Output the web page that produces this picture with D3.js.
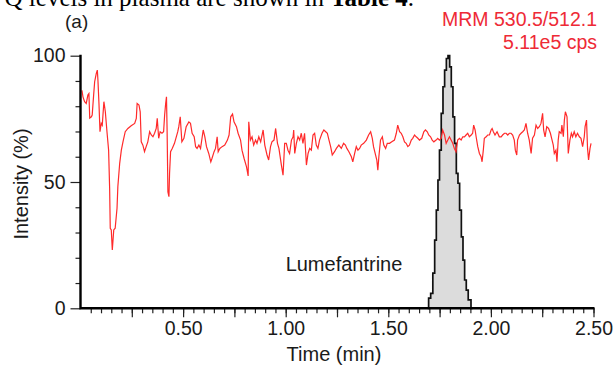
<!DOCTYPE html>
<html>
<head>
<meta charset="utf-8">
<script src="https://cdn.jsdelivr.net/npm/d3@7"></script>
<style>
    body { margin: 0; background: #fff; }
    svg { display: block; }
</style>
</head>
<body>
<script>
const WIDTH_SVG = 613;
const HEIGHT_SVG = 366;

// Data (time in min, intensity in %)
const traceTime = [0.007, 0.012, 0.020, 0.028, 0.036, 0.041, 0.045, 0.053, 0.057, 0.064, 0.069, 0.077, 0.082, 0.085, 0.090, 0.095, 0.101, 0.106, 0.114, 0.121, 0.129, 0.137, 0.142, 0.145, 0.150, 0.155, 0.162, 0.169, 0.178, 0.182, 0.191, 0.199, 0.207, 0.218, 0.231, 0.247, 0.264, 0.272, 0.276, 0.285, 0.291, 0.296, 0.304, 0.312, 0.320, 0.328, 0.337, 0.345, 0.353, 0.361, 0.369, 0.374, 0.381, 0.388, 0.397, 0.405, 0.410, 0.415, 0.419, 0.422, 0.426, 0.431, 0.434, 0.439, 0.447, 0.458, 0.474, 0.479, 0.486, 0.494, 0.504, 0.515, 0.528, 0.536, 0.544, 0.554, 0.561, 0.568, 0.577, 0.585, 0.598, 0.606, 0.614, 0.625, 0.635, 0.641, 0.651, 0.658, 0.666, 0.671, 0.679, 0.690, 0.703, 0.716, 0.724, 0.732, 0.741, 0.748, 0.760, 0.768, 0.780, 0.787, 0.797, 0.809, 0.817, 0.820, 0.828, 0.836, 0.844, 0.853, 0.860, 0.869, 0.878, 0.890, 0.898, 0.909, 0.917, 0.926, 0.933, 0.943, 0.951, 0.960, 0.967, 0.979, 0.987, 0.995, 1.003, 1.011, 1.019, 1.028, 1.036, 1.039, 1.044, 1.052, 1.060, 1.068, 1.076, 1.084, 1.092, 1.101, 1.109, 1.117, 1.125, 1.133, 1.141, 1.149, 1.157, 1.165, 1.177, 1.186, 1.195, 1.203, 1.211, 1.219, 1.227, 1.238, 1.247, 1.259, 1.271, 1.282, 1.291, 1.298, 1.308, 1.320, 1.327, 1.336, 1.344, 1.352, 1.360, 1.368, 1.380, 1.393, 1.404, 1.414, 1.422, 1.428, 1.436, 1.444, 1.449, 1.454, 1.462, 1.471, 1.478, 1.487, 1.495, 1.506, 1.517, 1.530, 1.539, 1.546, 1.555, 1.563, 1.571, 1.579, 1.587, 1.595, 1.603, 1.612, 1.619, 1.628, 1.636, 1.644, 1.652, 1.663, 1.673, 1.681, 1.690, 1.697, 1.706, 1.714, 1.722, 1.733, 1.741, 1.749, 1.758, 1.765, 1.774, 1.782, 1.790, 1.798, 1.806, 1.814, 1.822, 1.830, 1.838, 1.847, 1.855, 1.863, 1.871, 1.879, 1.887, 1.895, 1.904, 1.911, 1.916, 1.923, 1.928, 1.936, 1.944, 1.952, 1.957, 1.963, 1.968, 1.977, 1.984, 1.993, 2.001, 2.006, 2.012, 2.020, 2.030, 2.041, 2.050, 2.057, 2.066, 2.074, 2.082, 2.090, 2.098, 2.106, 2.114, 2.119, 2.126, 2.130, 2.139, 2.147, 2.155, 2.163, 2.171, 2.179, 2.187, 2.196, 2.203, 2.212, 2.220, 2.228, 2.236, 2.244, 2.252, 2.257, 2.264, 2.272, 2.281, 2.290, 2.296, 2.304, 2.309, 2.317, 2.322, 2.328, 2.333, 2.342, 2.346, 2.353, 2.358, 2.363, 2.371, 2.377, 2.385, 2.392, 2.398, 2.406, 2.414, 2.422, 2.431, 2.439, 2.447, 2.455, 2.459, 2.466, 2.471, 2.476, 2.483, 2.488];
const traceIntensity = [86.3, 83.7, 81.8, 81.1, 84.4, 85.0, 75.3, 75.8, 76.5, 84.4, 89.7, 93.0, 94.3, 90.3, 81.1, 69.9, 73.2, 72.5, 81.8, 77.8, 69.9, 62.6, 47.5, 31.7, 31.0, 23.1, 31.0, 31.7, 39.6, 48.1, 57.4, 62.6, 65.9, 69.9, 71.2, 72.3, 73.2, 75.2, 81.1, 80.5, 77.8, 65.9, 64.6, 62.0, 64.0, 65.9, 69.9, 68.6, 67.9, 69.3, 71.2, 75.2, 67.3, 69.9, 69.3, 69.9, 76.5, 81.1, 83.7, 70.6, 46.1, 44.2, 53.4, 62.0, 63.3, 65.3, 69.9, 71.9, 75.8, 65.9, 67.3, 71.9, 73.8, 73.2, 69.3, 67.9, 64.0, 63.3, 64.6, 63.3, 70.6, 67.9, 64.0, 61.3, 58.0, 59.4, 62.0, 63.3, 67.9, 62.0, 63.3, 64.0, 64.6, 66.6, 68.6, 75.8, 76.9, 73.8, 71.9, 69.3, 66.6, 62.6, 59.4, 56.0, 52.4, 73.8, 66.6, 67.9, 64.6, 66.6, 65.3, 67.9, 65.9, 70.6, 64.6, 60.7, 58.7, 64.0, 65.9, 66.6, 71.2, 65.3, 63.3, 56.7, 52.7, 65.3, 65.3, 62.6, 61.3, 66.6, 67.9, 70.6, 61.3, 65.3, 67.9, 66.6, 69.3, 65.3, 69.3, 56.7, 61.3, 63.3, 62.6, 68.6, 69.3, 64.6, 63.3, 66.6, 69.3, 70.6, 69.9, 69.3, 66.6, 64.0, 60.7, 62.0, 63.3, 64.6, 63.3, 65.3, 64.6, 63.3, 62.0, 60.0, 58.0, 61.3, 64.0, 62.6, 63.3, 64.6, 65.3, 66.6, 68.6, 69.9, 67.3, 64.0, 61.3, 58.7, 54.7, 60.0, 66.6, 67.9, 64.6, 63.3, 65.3, 65.3, 65.9, 66.6, 69.3, 72.5, 69.9, 69.3, 67.9, 65.9, 65.3, 64.0, 64.6, 66.6, 67.3, 68.6, 67.9, 67.3, 66.6, 67.3, 69.9, 70.6, 69.9, 68.6, 67.9, 66.6, 65.9, 66.6, 67.3, 66.6, 67.3, 70.6, 68.6, 65.3, 66.6, 67.9, 66.6, 65.3, 63.3, 62.0, 66.6, 67.3, 66.6, 67.9, 67.9, 68.6, 69.3, 67.9, 68.6, 69.3, 72.5, 70.6, 67.9, 64.0, 61.3, 60.0, 58.0, 62.6, 67.3, 67.9, 68.6, 68.6, 70.6, 71.2, 69.9, 68.6, 69.9, 67.9, 67.9, 68.6, 69.3, 69.3, 68.6, 69.3, 69.3, 68.6, 66.6, 62.6, 60.7, 66.6, 68.6, 69.3, 69.9, 70.6, 73.2, 69.3, 66.6, 61.3, 67.3, 68.6, 72.5, 71.2, 71.9, 73.2, 77.2, 70.6, 67.9, 71.9, 71.2, 69.3, 67.3, 64.6, 61.3, 62.6, 58.0, 66.6, 69.9, 69.3, 72.5, 67.9, 74.5, 77.8, 75.8, 61.3, 66.6, 69.3, 67.9, 69.9, 67.9, 69.3, 67.9, 67.3, 64.0, 67.9, 71.9, 74.5, 63.3, 58.7, 63.3, 65.3];

const peakTime = [1.692, 1.701, 1.712, 1.722, 1.730, 1.738, 1.746, 1.753, 1.763, 1.770, 1.779, 1.787, 1.795, 1.803, 1.811, 1.819, 1.827, 1.836, 1.843, 1.852, 1.860, 1.868, 1.876, 1.884, 1.895, 1.911];
const peakIntensity = [0, 4.0, 5.9, 13.9, 27.0, 38.9, 50.8, 62.6, 77.2, 87.7, 94.3, 98.9, 100, 95.6, 87.7, 75.8, 65.3, 53.4, 49.5, 38.9, 28.3, 19.1, 11.2, 7.2, 3.3, 0];

const yMajorTicks = [0, 50, 100];
const xLabelTicks = [0.5, 1.0, 1.5, 2.0, 2.5];

const X_LEFT = 80.5;
const X_RIGHT = 593.5;
const Y_TOP = 55.7;
const Y_BOTTOM = 308.3;
const FONT = "Arial, 'Liberation Sans', sans-serif";
const TEXT_COLOR = "#1a1a1a";
const RED = "#ff2a2a";

const svg = d3.select("body")
    .append("svg")
        .attr("width", WIDTH_SVG)
        .attr("height", HEIGHT_SVG)
        .attr("viewBox", `0 0 ${WIDTH_SVG} ${HEIGHT_SVG}`);

const x = d3.scaleLinear().domain([0, 2.5]).range([X_LEFT, X_RIGHT]);
const y = d3.scaleLinear().domain([0, 100]).range([Y_BOTTOM, Y_TOP]);

// cropped line of the surrounding article text
const topLine = svg.append("text")
    .attr("x", 414)
    .attr("y", 6)
    .attr("text-anchor", "end")
    .style("font-family", "'Liberation Serif', 'Times New Roman', serif")
    .style("font-size", "25px")
    .style("fill", "#000");
topLine.append("tspan").text("Q levels in plasma are shown in ");
topLine.append("tspan").style("font-weight", "bold").text("Table 4");
topLine.append("tspan").text(".");

// peak (filled)
const peak = peakTime.map((t, i) => ({ t: t, v: peakIntensity[i] }));
svg.append("path")
    .datum(peak)
    .attr("d", d3.area().x(d => x(d.t)).y0(y(0)).y1(d => y(d.v)).curve(d3.curveStep))
    .attr("fill", "#dcdcdc");
svg.append("path")
    .datum(peak)
    .attr("d", d3.line().x(d => x(d.t)).y(d => y(d.v)).curve(d3.curveStep))
    .attr("fill", "none")
    .attr("stroke", "#111")
    .attr("stroke-width", 1.7);

// red trace
const trace = traceTime.map((t, i) => ({ t: t, v: traceIntensity[i] }));
svg.append("path")
    .datum(trace)
    .attr("d", d3.line().x(d => x(d.t)).y(d => y(d.v)))
    .attr("fill", "none")
    .attr("stroke", RED)
    .attr("stroke-width", 1.2);

// y axis: minor ticks every 10, labelled ticks at 0/50/100
svg.append("g")
    .attr("transform", `translate(${X_LEFT},0)`)
    .call(d3.axisLeft(y).tickValues(d3.range(0, 101, 10).filter(v => !yMajorTicks.includes(v))).tickSize(5).tickFormat(""))
    .call(g => g.select(".domain").remove());
svg.append("g")
    .attr("transform", `translate(${X_LEFT},0)`)
    .call(d3.axisLeft(y).tickValues(yMajorTicks).tickSize(10).tickPadding(5).tickFormat(d3.format("d")))
    .call(g => g.select(".domain").remove());

// x axis: ticks every 0.05, longer every 0.25, labels every 0.5
svg.append("g")
    .attr("transform", `translate(0,${Y_BOTTOM})`)
    .call(d3.axisBottom(x).tickValues(d3.range(1, 51).map(i => i * 0.05)).tickSize(5).tickFormat(""))
    .call(g => g.select(".domain").remove());
svg.append("g")
    .attr("transform", `translate(0,${Y_BOTTOM})`)
    .call(d3.axisBottom(x).tickValues(d3.range(1, 11).map(i => i * 0.25)).tickSize(9).tickFormat(""))
    .call(g => g.select(".domain").remove());
svg.append("g")
    .attr("transform", `translate(0,${Y_BOTTOM})`)
    .call(d3.axisBottom(x).tickValues(xLabelTicks).tickSize(0).tickPadding(13).tickFormat(d3.format(".2f")))
    .call(g => g.select(".domain").remove());

svg.selectAll(".tick line").attr("stroke", "#222").attr("stroke-width", 1.2);
svg.selectAll(".tick text")
    .style("font-family", FONT)
    .style("font-size", "19.5px")
    .style("fill", TEXT_COLOR);

// axis lines
svg.append("path")
    .attr("d", `M${X_LEFT},${Y_TOP - 1}V${Y_BOTTOM}H${X_RIGHT + 1}`)
    .attr("fill", "none")
    .attr("stroke", "#000")
    .attr("stroke-width", 2.4);

// titles
svg.append("text")
    .attr("x", 334)
    .attr("y", 361)
    .attr("text-anchor", "middle")
    .style("font-family", FONT)
    .style("font-size", "20px")
    .style("fill", TEXT_COLOR)
    .text("Time (min)");

svg.append("text")
    .attr("transform", `translate(28,184) rotate(-90)`)
    .attr("text-anchor", "middle")
    .style("font-family", FONT)
    .style("font-size", "20px")
    .style("fill", TEXT_COLOR)
    .text("Intensity (%)");

svg.append("text")
    .attr("x", 65)
    .attr("y", 28)
    .style("font-family", FONT)
    .style("font-size", "19px")
    .style("fill", TEXT_COLOR)
    .text("(a)");

svg.append("text")
    .attr("x", 597)
    .attr("y", 26)
    .attr("text-anchor", "end")
    .style("font-family", FONT)
    .style("font-size", "19.5px")
    .style("fill", "#ee2a36")
    .text("MRM 530.5/512.1");

svg.append("text")
    .attr("x", 597)
    .attr("y", 49)
    .attr("text-anchor", "end")
    .style("font-family", FONT)
    .style("font-size", "19.5px")
    .style("fill", "#ee2a36")
    .text("5.11e5 cps");

svg.append("text")
    .attr("x", 344)
    .attr("y", 271)
    .attr("text-anchor", "middle")
    .style("font-family", FONT)
    .style("font-size", "20px")
    .style("fill", TEXT_COLOR)
    .text("Lumefantrine");
</script>
</body>
</html>
